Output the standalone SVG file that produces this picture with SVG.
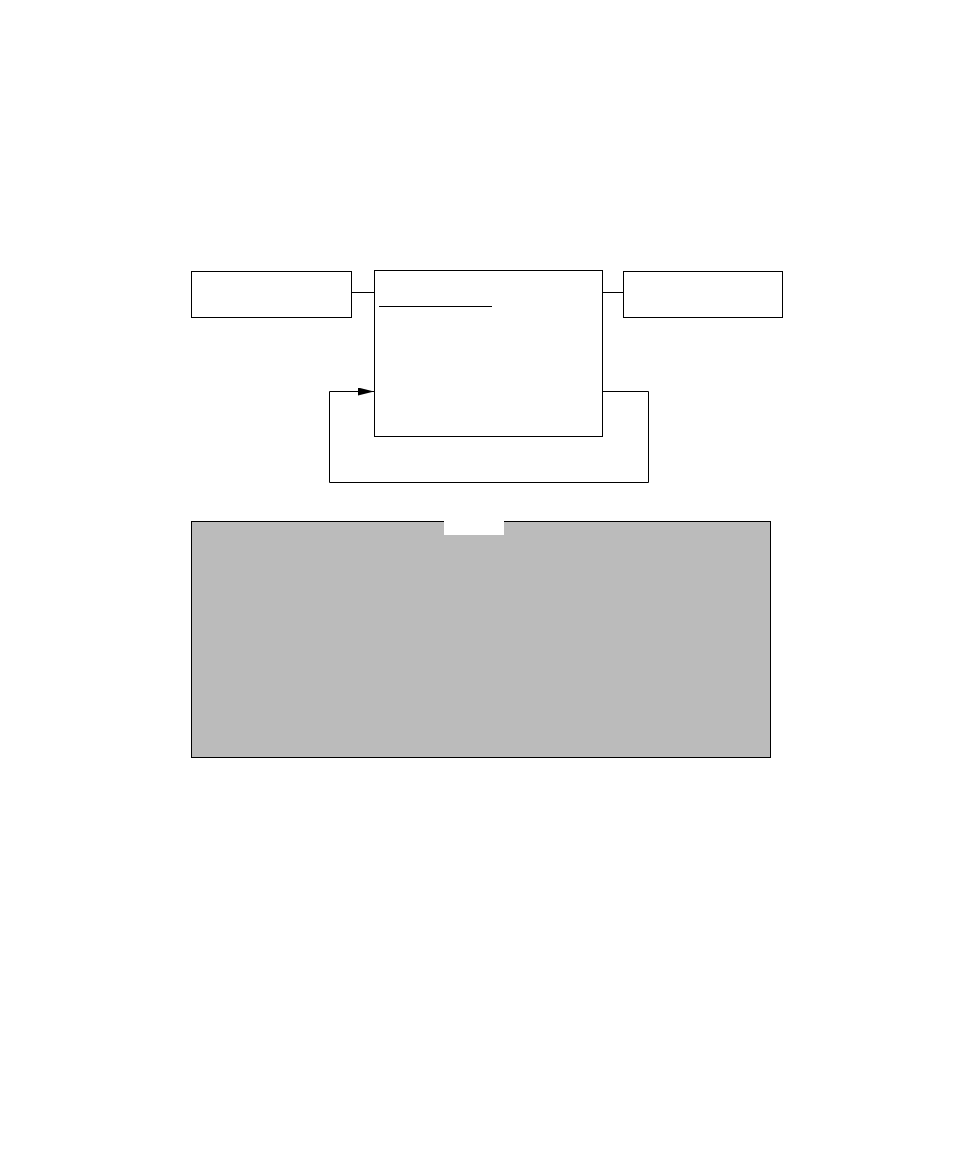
<svg xmlns="http://www.w3.org/2000/svg" width="954" height="1168" viewBox="0 0 954 1168">
<style>
.box{fill:#ffffff;stroke:#000000;stroke-width:1}
.wire{fill:none;stroke:#000000;stroke-width:1}
</style>
<defs>
<marker id="arr" markerWidth="16" markerHeight="8" refX="16" refY="4" orient="auto" markerUnits="userSpaceOnUse">
<path d="M0,0 L16,4 L0,8 Z" fill="#000"/>
</marker>
</defs>
<rect width="954" height="1168" fill="#ffffff"/>
<g id="panel">
<rect x="191.5" y="521.5" width="579" height="236" fill="#bbbbbb" stroke="#000" stroke-width="1"/>
<rect x="444" y="521" width="60" height="14" fill="#ffffff"/>
</g>
<g id="connectors">
<path class="wire" d="M351.5,292.5 H374.5"/>
<path class="wire" d="M602.5,292.5 H623.5"/>
<path class="wire" d="M602.5,391.5 H648.5 V482.5 H329.5 V391.5 H374" marker-end="url(#arr)"/>
</g>
<g id="left-node">
<rect class="box" x="191.5" y="271.5" width="160" height="46"/>
</g>
<g id="center-node">
<rect class="box" x="374.5" y="270.5" width="228" height="166"/>
<line x1="379" y1="306.5" x2="492" y2="306.5" stroke="#000" stroke-width="1"/>
</g>
<g id="right-node">
<rect class="box" x="623.5" y="271.5" width="159" height="46"/>
</g>
</svg>
